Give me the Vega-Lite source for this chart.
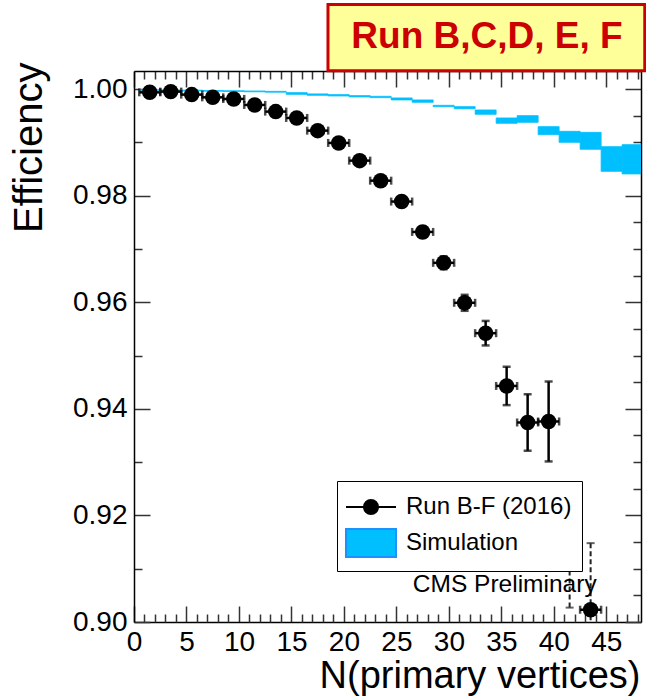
{
  "$schema": "https://vega.github.io/schema/vega-lite/v6.json",
  "width": 507,
  "height": 551,
  "autosize": "none",
  "padding": {"left": 134, "top": 71, "right": 5, "bottom": 75},
  "background": "white",
  "datasets": {
    "data2016": [
      {"n": 1.5, "n_lo": 0.5, "n_hi": 2.5, "eff": 0.99940, "eff_lo": 0.99920, "eff_hi": 0.99960},
      {"n": 3.5, "n_lo": 2.5, "n_hi": 4.5, "eff": 0.99953, "eff_lo": 0.99933, "eff_hi": 0.99973},
      {"n": 5.5, "n_lo": 4.5, "n_hi": 6.5, "eff": 0.99897, "eff_lo": 0.99877, "eff_hi": 0.99917},
      {"n": 7.5, "n_lo": 6.5, "n_hi": 8.5, "eff": 0.99846, "eff_lo": 0.99826, "eff_hi": 0.99866},
      {"n": 9.5, "n_lo": 8.5, "n_hi": 10.5, "eff": 0.99816, "eff_lo": 0.99786, "eff_hi": 0.99846},
      {"n": 11.5, "n_lo": 10.5, "n_hi": 12.5, "eff": 0.99703, "eff_lo": 0.99673, "eff_hi": 0.99733},
      {"n": 13.5, "n_lo": 12.5, "n_hi": 14.5, "eff": 0.99578, "eff_lo": 0.99538, "eff_hi": 0.99618},
      {"n": 15.5, "n_lo": 14.5, "n_hi": 16.5, "eff": 0.99459, "eff_lo": 0.99419, "eff_hi": 0.99499},
      {"n": 17.5, "n_lo": 16.5, "n_hi": 18.5, "eff": 0.99221, "eff_lo": 0.99171, "eff_hi": 0.99271},
      {"n": 19.5, "n_lo": 18.5, "n_hi": 20.5, "eff": 0.98990, "eff_lo": 0.98930, "eff_hi": 0.99050},
      {"n": 21.5, "n_lo": 20.5, "n_hi": 22.5, "eff": 0.98658, "eff_lo": 0.98588, "eff_hi": 0.98728},
      {"n": 23.5, "n_lo": 22.5, "n_hi": 24.5, "eff": 0.98282, "eff_lo": 0.98202, "eff_hi": 0.98362},
      {"n": 25.5, "n_lo": 24.5, "n_hi": 26.5, "eff": 0.97890, "eff_lo": 0.97800, "eff_hi": 0.97980},
      {"n": 27.5, "n_lo": 26.5, "n_hi": 28.5, "eff": 0.97320, "eff_lo": 0.97220, "eff_hi": 0.97420},
      {"n": 29.5, "n_lo": 28.5, "n_hi": 30.5, "eff": 0.96740, "eff_lo": 0.96620, "eff_hi": 0.96860},
      {"n": 31.5, "n_lo": 30.5, "n_hi": 32.5, "eff": 0.95990, "eff_lo": 0.95840, "eff_hi": 0.96140},
      {"n": 33.5, "n_lo": 32.5, "n_hi": 34.5, "eff": 0.95420, "eff_lo": 0.95190, "eff_hi": 0.95650},
      {"n": 35.5, "n_lo": 34.5, "n_hi": 36.5, "eff": 0.94430, "eff_lo": 0.94070, "eff_hi": 0.94790},
      {"n": 37.5, "n_lo": 36.5, "n_hi": 38.5, "eff": 0.93744, "eff_lo": 0.93214, "eff_hi": 0.94274},
      {"n": 39.5, "n_lo": 38.5, "n_hi": 40.5, "eff": 0.93763, "eff_lo": 0.93013, "eff_hi": 0.94513},
      {"n": 41.5, "n_lo": 40.5, "n_hi": 42.5, "eff": 0.91350, "eff_lo": 0.90270, "eff_hi": 0.92430},
      {"n": 43.5, "n_lo": 42.5, "n_hi": 44.5, "eff": 0.90230, "eff_lo": 0.88980, "eff_hi": 0.91480}
    ],
    "simulation": [
      {"x_lo": 0.5, "x_hi": 2.5, "lo": 0.99975, "hi": 0.99990},
      {"x_lo": 2.5, "x_hi": 4.5, "lo": 0.99970, "hi": 0.99985},
      {"x_lo": 4.5, "x_hi": 6.5, "lo": 0.99965, "hi": 0.99980},
      {"x_lo": 6.5, "x_hi": 8.5, "lo": 0.99960, "hi": 0.99975},
      {"x_lo": 8.5, "x_hi": 10.5, "lo": 0.99955, "hi": 0.99970},
      {"x_lo": 10.5, "x_hi": 12.5, "lo": 0.99950, "hi": 0.99965},
      {"x_lo": 12.5, "x_hi": 14.5, "lo": 0.99942, "hi": 0.99958},
      {"x_lo": 14.5, "x_hi": 16.5, "lo": 0.99902, "hi": 0.99934},
      {"x_lo": 16.5, "x_hi": 18.5, "lo": 0.99884, "hi": 0.99910},
      {"x_lo": 18.5, "x_hi": 20.5, "lo": 0.99872, "hi": 0.99897},
      {"x_lo": 20.5, "x_hi": 22.5, "lo": 0.99853, "hi": 0.99878},
      {"x_lo": 22.5, "x_hi": 24.5, "lo": 0.99840, "hi": 0.99865},
      {"x_lo": 24.5, "x_hi": 26.5, "lo": 0.99797, "hi": 0.99835},
      {"x_lo": 26.5, "x_hi": 28.5, "lo": 0.99752, "hi": 0.99797},
      {"x_lo": 28.5, "x_hi": 30.5, "lo": 0.99671, "hi": 0.99696},
      {"x_lo": 30.5, "x_hi": 32.5, "lo": 0.99632, "hi": 0.99671},
      {"x_lo": 32.5, "x_hi": 34.5, "lo": 0.99527, "hi": 0.99609},
      {"x_lo": 34.5, "x_hi": 36.5, "lo": 0.99358, "hi": 0.99459},
      {"x_lo": 36.5, "x_hi": 38.5, "lo": 0.99377, "hi": 0.99502},
      {"x_lo": 38.5, "x_hi": 40.5, "lo": 0.99146, "hi": 0.99296},
      {"x_lo": 40.5, "x_hi": 42.5, "lo": 0.99001, "hi": 0.99208},
      {"x_lo": 42.5, "x_hi": 44.5, "lo": 0.98870, "hi": 0.99189},
      {"x_lo": 44.5, "x_hi": 46.5, "lo": 0.98457, "hi": 0.98920},
      {"x_lo": 46.5, "x_hi": 48.5, "lo": 0.98408, "hi": 0.98958}
    ],
    "series": [
      {"series": "Run B-F (2016)"},
      {"series": "Simulation"}
    ],
    "notes": [
      {"label": "CMS Preliminary"}
    ],
    "banner": [
      {"label": "Run B,C,D, E, F"}
    ]
  },
  "config": {
    "font": "Liberation Sans",
    "view": {"stroke": null},
    "axis": {
      "grid": false,
      "domainColor": "black",
      "domainWidth": 1.5,
      "tickColor": "#333333",
      "tickWidth": 1.5,
      "labelFont": "Liberation Sans",
      "labelFontSize": 28,
      "labelColor": "black",
      "labelOverlap": false,
      "labelFlush": false,
      "titleFont": "Liberation Sans",
      "titleFontSize": 38,
      "titleFontWeight": "normal",
      "titleColor": "black",
      "zindex": 1
    },
    "legend": {
      "orient": "none",
      "legendX": 203,
      "legendY": 410,
      "fillColor": "white",
      "strokeColor": "black",
      "padding": 10,
      "symbolSize": 900,
      "symbolOffset": 8,
      "symbolOpacity": 1,
      "symbolStrokeWidth": 2,
      "labelOffset": 19,
      "rowPadding": 6,
      "labelFont": "Liberation Sans",
      "labelFontSize": 24,
      "labelColor": "black",
      "labelLimit": 400,
      "zindex": 2
    }
  },
  "resolve": {"scale": {"x": "independent", "y": "independent"}},
  "layer": [
    {
      "layer": [
        {
          "data": {"name": "simulation"},
          "mark": {"type": "rect", "clip": true, "fill": "#00bfff", "stroke": "#00bfff", "strokeWidth": 0.8},
          "encoding": {
            "x": {
              "field": "x_lo", "type": "quantitative", "title": "N(primary vertices)",
              "scale": {"domain": [0, 48.3], "nice": false, "zero": false},
              "axis": {
                "orient": "bottom",
                "titleAnchor": "end",
                "titleAlign": "right",
                "titleBaseline": "alphabetic",
                "titleX": 506,
                "titleY": 65,
                "values": [0, 5, 10, 15, 20, 25, 30, 35, 40, 45],
                "format": "d",
                "labelPadding": 22,
                "labelOverlap": false,
                "tickSize": -16
              }
            },
            "x2": {"field": "x_hi"},
            "y": {
              "field": "lo", "type": "quantitative", "title": "Efficiency",
              "scale": {"domain": [0.9, 1.0034], "nice": false, "zero": false},
              "axis": {
                "orient": "left",
                "titleAngle": -90,
                "titleAlign": "right",
                "titleBaseline": "alphabetic",
                "titleFontSize": 40,
                "titleX": -93,
                "titleY": -9,
                "values": [0.9,0.905,0.91,0.915,0.92,0.925,0.93,0.935,0.94,0.945,0.95,0.955,0.96,0.965,0.97,0.975,0.98,0.985,0.99,0.995,1.0],
                "labelExpr": "round(datum.value * 1000) % 20 === 0 ? format(datum.value, '.2f') : ''",
                "labelPadding": 23,
                "labelOverlap": false,
                "tickSize": {"condition": {"test": "round(datum.value * 1000) % 20 === 0", "value": -16}, "value": -8}
              }
            },
            "y2": {"field": "hi"}
          }
        },
        {
          "data": {"name": "data2016"},
          "mark": {"type": "errorbar", "color": "black", "ticks": {"size": 8, "thickness": 2.5}, "rule": {"strokeWidth": 2.5}},
          "encoding": {
            "x": {"field": "n_lo", "type": "quantitative", "title": "N(primary vertices)"},
            "x2": {"field": "n_hi"},
            "y": {"field": "eff", "type": "quantitative", "title": "Efficiency"}
          }
        },
        {
          "data": {"name": "data2016"},
          "transform": [{"filter": "datum.n < 40"}],
          "mark": {"type": "errorbar", "color": "black", "clip": true, "ticks": {"size": 8, "thickness": 2.5}, "rule": {"strokeWidth": 2.5}},
          "encoding": {
            "x": {"field": "n", "type": "quantitative", "title": "N(primary vertices)"},
            "y": {"field": "eff_lo", "type": "quantitative", "title": "Efficiency"},
            "y2": {"field": "eff_hi"}
          }
        },
        {
          "data": {"name": "data2016"},
          "transform": [{"filter": "datum.n > 40"}],
          "mark": {"type": "errorbar", "color": "#222222", "clip": true, "ticks": {"size": 8, "thickness": 2}, "rule": {"strokeWidth": 2, "strokeDash": [5, 3]}},
          "encoding": {
            "x": {"field": "n", "type": "quantitative", "title": "N(primary vertices)"},
            "y": {"field": "eff_lo", "type": "quantitative", "title": "Efficiency"},
            "y2": {"field": "eff_hi"}
          }
        },
        {
          "data": {"name": "data2016"},
          "mark": {"type": "point", "shape": "circle", "filled": true, "color": "black", "opacity": 1, "size": 240, "clip": true},
          "encoding": {
            "x": {"field": "n", "type": "quantitative", "title": "N(primary vertices)"},
            "y": {"field": "eff", "type": "quantitative", "title": "Efficiency"}
          }
        },
        {
          "data": {"name": "notes"},
          "mark": {"type": "text", "font": "Liberation Sans", "fontSize": 24.5, "align": "center", "baseline": "middle", "color": "black"},
          "encoding": {
            "x": {"datum": 35.32, "type": "quantitative"},
            "y": {"datum": 0.90697, "type": "quantitative"},
            "text": {"field": "label"}
          }
        },
        {
          "data": {"name": "banner"},
          "mark": {"type": "rect", "fill": "#ffff99", "stroke": "#cc0000", "strokeWidth": 3},
          "encoding": {
            "x": {"datum": 18.48, "type": "quantitative"},
            "x2": {"datum": 48.66},
            "y": {"datum": 1.00347, "type": "quantitative"},
            "y2": {"datum": 1.01586}
          }
        },
        {
          "data": {"name": "banner"},
          "mark": {"type": "text", "font": "Liberation Sans", "fontSize": 37, "fontWeight": "bold", "align": "center", "baseline": "middle", "color": "#cc0000"},
          "encoding": {
            "x": {"datum": 33.63, "type": "quantitative"},
            "y": {"datum": 1.00985, "type": "quantitative"},
            "text": {"field": "label"}
          }
        }
      ]
    },
    {
      "data": {"name": "series"},
      "mark": {"type": "point", "filled": true, "opacity": 0},
      "encoding": {
        "fill": {
          "field": "series", "type": "nominal", "title": null,
          "scale": {"domain": ["Run B-F (2016)", "Simulation"], "range": ["black", "#00bfff"]}
        },
        "stroke": {
          "field": "series", "type": "nominal", "title": null,
          "scale": {"domain": ["Run B-F (2016)", "Simulation"], "range": ["black", "#1e90ff"]}
        },
        "shape": {
          "field": "series", "type": "nominal", "title": null,
          "scale": {
            "domain": ["Run B-F (2016)", "Simulation"],
            "range": [
              "M-1.667,0H1.667M0.467,0A0.467,0.467 0 1,1 -0.467,0A0.467,0.467 0 1,1 0.467,0Z",
              "M-1.667,-0.933H1.667V0.933H-1.667Z"
            ]
          }
        }
      }
    },
    {
      "data": {"name": "simulation"},
      "mark": {"type": "point", "opacity": 0},
      "encoding": {
        "x": {
          "field": "x_lo", "type": "quantitative",
          "scale": {"domain": [0, 48.3], "nice": false, "zero": false},
          "axis": {
            "orient": "top",
            "title": null,
            "labels": false,
            "offset": 0,
            "values": [0,1,2,3,4,5,6,7,8,9,10,11,12,13,14,15,16,17,18,19,20,21,22,23,24,25,26,27,28,29,30,31,32,33,34,35,36,37,38,39,40,41,42,43,44,45,46,47,48],
            "tickSize": {"condition": {"test": "datum.value % 5 === 0", "value": -16}, "value": -8}
          }
        },
        "y": {
          "field": "lo", "type": "quantitative",
          "scale": {"domain": [0.9, 1.0034], "nice": false, "zero": false},
          "axis": {
            "orient": "right",
            "title": null,
            "labels": false,
            "offset": 0,
            "values": [0.9,0.905,0.91,0.915,0.92,0.925,0.93,0.935,0.94,0.945,0.95,0.955,0.96,0.965,0.97,0.975,0.98,0.985,0.99,0.995,1.0],
            "tickSize": {"condition": {"test": "round(datum.value * 1000) % 20 === 0", "value": -16}, "value": -8}
          }
        }
      }
    },
    {
      "data": {"name": "simulation"},
      "mark": {"type": "point", "opacity": 0},
      "encoding": {
        "x": {
          "field": "x_hi", "type": "quantitative",
          "scale": {"domain": [0, 48.3], "nice": false, "zero": false},
          "axis": {
            "orient": "bottom",
            "title": null,
            "labels": false,
            "domain": false,
            "offset": 0,
            "values": [1,2,3,4,6,7,8,9,11,12,13,14,16,17,18,19,21,22,23,24,26,27,28,29,31,32,33,34,36,37,38,39,41,42,43,44,46,47,48],
            "tickSize": -8
          }
        }
      }
    }
  ]
}
